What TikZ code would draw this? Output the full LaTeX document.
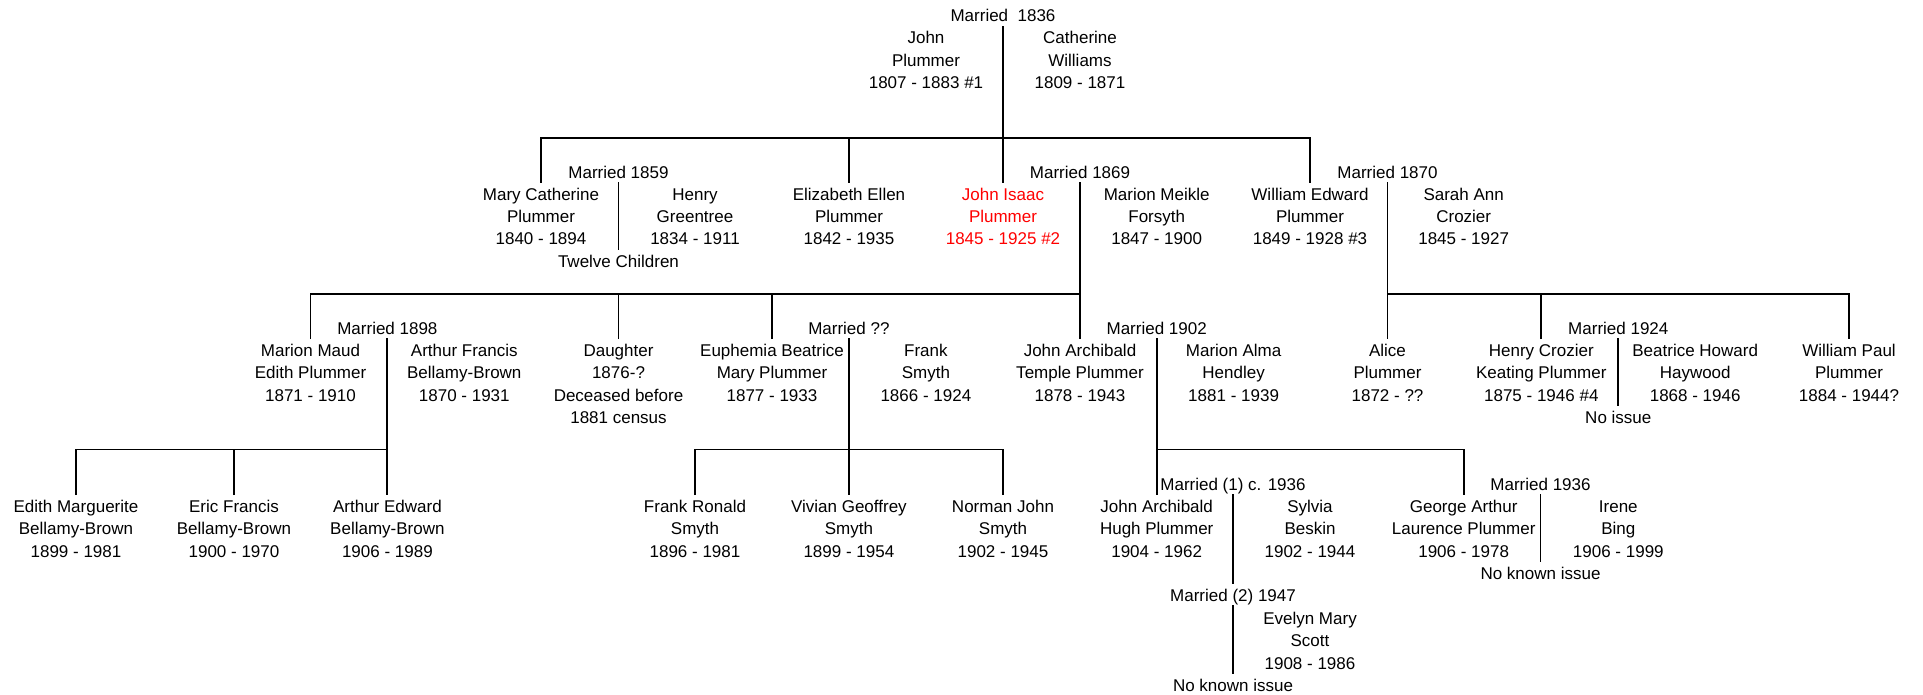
\documentclass[tikz,border=0pt]{standalone}
\usepackage{fontspec}
\setmainfont{Liberation Sans}
\newcommand{\fstrut}{\rule[-4pt]{0pt}{21pt}}
\begin{document}
\begin{tikzpicture}[x=1pt,y=-1pt,
  lbl/.style={align=center,inner sep=0pt,anchor=north,
    font=\fontsize{17}{22.4}\selectfont},
  wed/.style={lbl},
  kin/.style={line width=1.9pt}]
\useasboundingbox (0,0) rectangle (1923,695);
% ---------- generation 0 (top couple) ----------
\node[wed] (m1836) at (1003,4.7) {\fstrut Married\ \ 1836};
\node[lbl] (john) at (926,26.7) {\fstrut John\\Plummer\\1807 - 1883 \#1};
\node[lbl] (catherine) at (1080,26.7) {\fstrut Catherine\\Williams\\1809 - 1871};
% ---------- generation 1 ----------
\node[lbl] (mary) at (541,183) {\fstrut Mary Catherine\\Plummer\\1840 - 1894};
\node[wed] (m1859) at (618.5,161) {\fstrut Married 1859};
\node[lbl] (henry) at (695,183) {\fstrut Henry\\Greentree\\1834 - 1911};
\node[lbl] (twelve) at (618.5,250) {\fstrut Twelve Children};
\node[lbl] (elizabeth) at (849,183) {\fstrut Elizabeth Ellen\\Plummer\\1842 - 1935};
\node[lbl,text=red] (johnisaac) at (1003,183) {\fstrut John Isaac\\Plummer\\1845 - 1925 \#2};
\node[wed] (m1869) at (1080,161) {\fstrut Married 1869};
\node[lbl] (marionm) at (1156.7,183) {\fstrut Marion Meikle\\Forsyth\\1847 - 1900};
\node[lbl] (william) at (1310,183) {\fstrut William Edward\\Plummer\\1849 - 1928 \#3};
\node[wed] (m1870) at (1387.5,161) {\fstrut Married 1870};
\node[lbl] (sarah) at (1463.7,183) {\fstrut Sarah Ann\\Crozier\\1845 - 1927};
% ---------- generation 2 ----------
\node[lbl] (marionmaud) at (310.5,339) {\fstrut Marion Maud\\Edith Plummer\\1871 - 1910};
\node[wed] (m1898) at (387.4,317) {\fstrut Married 1898};
\node[lbl] (arthurf) at (464.3,339) {\fstrut Arthur Francis\\Bellamy-Brown\\1870 - 1931};
\node[lbl] (daughter) at (618.5,339) {\fstrut Daughter\\1876-?\\Deceased before\\1881 census};
\node[lbl] (euphemia) at (772,339) {\fstrut Euphemia Beatrice\\Mary Plummer\\1877 - 1933};
\node[wed] (mqq) at (848.9,317) {\fstrut Married ??};
\node[lbl] (frank) at (925.9,339) {\fstrut Frank\\Smyth\\1866 - 1924};
\node[lbl] (johna) at (1080,339) {\fstrut John Archibald\\Temple Plummer\\1878 - 1943};
\node[wed] (m1902) at (1156.7,317) {\fstrut Married 1902};
\node[lbl] (marionalma) at (1233.6,339) {\fstrut Marion Alma\\Hendley\\1881 - 1939};
\node[lbl] (alice) at (1387.5,339) {\fstrut Alice\\Plummer\\1872 - ??};
\node[lbl] (henryc) at (1541.3,339) {\fstrut Henry Crozier\\Keating Plummer\\1875 - 1946 \#4};
\node[wed] (m1924) at (1618.3,317) {\fstrut Married 1924};
\node[lbl] (beatrice) at (1695.2,339) {\fstrut Beatrice Howard\\Haywood\\1868 - 1946};
\node[lbl] (noissue) at (1618.3,406) {\fstrut No issue};
\node[lbl] (williamp) at (1849,339) {\fstrut William Paul\\Plummer\\1884 - 1944?};
% ---------- generation 3 ----------
\node[lbl] (edithm) at (76,495) {\fstrut Edith Marguerite\\Bellamy-Brown\\1899 - 1981};
\node[lbl] (eric) at (234,495) {\fstrut Eric Francis\\Bellamy-Brown\\1900 - 1970};
\node[lbl] (arthure) at (387.4,495) {\fstrut Arthur Edward\\Bellamy-Brown\\1906 - 1989};
\node[lbl] (frankr) at (695,495) {\fstrut Frank Ronald\\Smyth\\1896 - 1981};
\node[lbl] (vivian) at (848.9,495) {\fstrut Vivian Geoffrey\\Smyth\\1899 - 1954};
\node[lbl] (norman) at (1003,495) {\fstrut Norman John\\Smyth\\1902 - 1945};
\node[lbl] (johnah) at (1156.7,495) {\fstrut John Archibald\\Hugh Plummer\\1904 - 1962};
\node[wed] (m1936a) at (1233,473) {\fstrut Married (1) c. 1936};
\node[lbl] (sylvia) at (1310,495) {\fstrut Sylvia\\Beskin\\1902 - 1944};
\node[lbl] (george) at (1463.7,495) {\fstrut George Arthur\\Laurence Plummer\\1906 - 1978};
\node[wed] (m1936b) at (1540.5,473) {\fstrut Married 1936};
\node[lbl] (nki1) at (1540.5,562.3) {\fstrut No known issue};
\node[lbl] (irene) at (1618.3,495) {\fstrut Irene\\Bing\\1906 - 1999};
% ---------- second marriage ----------
\node[wed] (m1947) at (1233,584) {\fstrut Married (2) 1947};
\node[lbl] (evelyn) at (1310,607) {\fstrut Evelyn Mary\\Scott\\1908 - 1986};
\node[lbl] (nki2) at (1233,674) {\fstrut No known issue};
% ---------- junction points ----------
\coordinate (bar1) at (1003,138);
\coordinate (bar2a) at (1080,294);
\coordinate (bar2b) at (1387.5,294);
\coordinate (bar3a) at (387.4,449.5);
\coordinate (bar3b) at (848.9,449.5);
\coordinate (bar3c) at (1156.7,449.5);
% ---------- connectors ----------
\draw[kin] (m1836.south) -- (johnisaac.north);
\draw[kin] (mary.north) |- (bar1) -| (william.north);
\draw[kin] (elizabeth.north) -- (elizabeth.north |- bar1);
\draw[kin] (m1859.south) -- (twelve.north);
\draw[kin] (m1869.south) -- (johna.north);
\draw[kin] (marionmaud.north) |- (bar2a);
\draw[kin] (daughter.north) -- (daughter.north |- bar2a);
\draw[kin] (euphemia.north) -- (euphemia.north |- bar2a);
\draw[kin] (m1870.south) -- (alice.north);
\draw[kin] (bar2b) -| (williamp.north);
\draw[kin] (henryc.north) -- (henryc.north |- bar2b);
\draw[kin] (m1898.south) -- (arthure.north);
\draw[kin] (edithm.north) |- (bar3a);
\draw[kin] (eric.north) -- (eric.north |- bar3a);
\draw[kin] (mqq.south) -- (vivian.north);
\draw[kin] (frankr.north) |- (bar3b) -| (norman.north);
\draw[kin] (m1902.south) -- (johnah.north);
\draw[kin] (bar3c) -| (george.north);
\draw[kin] (m1924.south) -- (noissue.north);
\draw[kin] (m1936a.south) -- (m1947.north);
\draw[kin] (m1947.south) -- (nki2.north);
\draw[kin] (m1936b.south) -- (nki1.north);
\end{tikzpicture}
\end{document}
